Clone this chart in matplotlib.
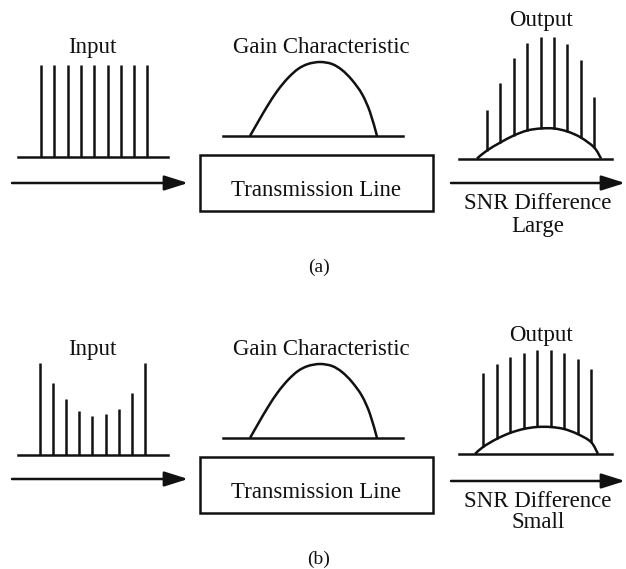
import matplotlib
matplotlib.use("Agg")
import matplotlib.pyplot as plt
from matplotlib.patches import FancyArrowPatch, Rectangle, PathPatch
from matplotlib.path import Path

# ---------------- data (signal levels) ----------------
channels = [1, 2, 3, 4, 5, 6, 7, 8, 9]
input_a = [92, 92, 92, 92, 92, 92, 92, 92, 92]
input_b = [92, 72, 56, 44, 39, 41, 46, 62, 92]
output_a = [49, 76, 101, 116, 122, 122, 115, 99, 62]
noise_a = [8, 16, 23, 28, 30, 30, 27, 21, 11]
output_b = [81, 90, 97, 101, 104, 104, 101, 95, 85]
noise_b = [7, 15, 21, 25, 27, 27, 25, 20, 12]
gain_freq = [0, 8, 18, 28, 38, 48, 58, 70, 82, 92, 102, 112, 120, 127]
gain_level = [0, 14, 31, 46, 58, 67, 72, 74, 72, 66, 56, 42, 24, 0]

FONT = ["Liberation Serif", "DejaVu Serif"]
LW = 1.8
K = "#111111"

fig = plt.figure(figsize=(6.26, 5.69), dpi=100)
ax = fig.add_axes([0, 0, 1, 1])
ax.set_xlim(0, 626)
ax.set_ylim(569, 0)
ax.axis("off")


def txt(x, y, s, size=16.5):
    ax.text(x, y, s, ha="center", va="baseline", fontsize=size,
            family=FONT, color=K)


def smooth(xs, ys):
    # cubic Bezier path through the read points (Catmull-Rom tangents)
    pts = list(zip(xs, ys))
    verts = [pts[0]]
    codes = [Path.MOVETO]
    n = len(pts)
    for i in range(n - 1):
        p0 = pts[max(i - 1, 0)]
        p1 = pts[i]
        p2 = pts[i + 1]
        p3 = pts[min(i + 2, n - 1)]
        c1 = (p1[0] + (p2[0] - p0[0]) / 6, p1[1] + (p2[1] - p0[1]) / 6)
        c2 = (p2[0] - (p3[0] - p1[0]) / 6, p2[1] - (p3[1] - p1[1]) / 6)
        verts += [c1, c2, p2]
        codes += [Path.CURVE4] * 3
    ax.add_patch(PathPatch(Path(verts, codes), fill=False, lw=LW,
                           edgecolor=K, capstyle="butt"))


def arrow(x0, x1, y):
    ax.add_patch(FancyArrowPatch((x0, y), (x1, y),
                                 arrowstyle="-|>,head_length=1.2,head_width=0.38",
                                 mutation_scale=12, lw=LW, color=K,
                                 shrinkA=0, shrinkB=0))


def spectrum(x0, step, base, levels, floor=None):
    for i, (c, lv) in enumerate(zip(channels, levels)):
        x = x0 + (c - 1) * step
        b = 0 if floor is None else floor[i]
        ax.plot([x, x], [base - b, base - lv], color=K, lw=LW,
                solid_capstyle="butt")


def panel(dy, inp, out, noise, in_x0, in_step, out_x0, out_step,
          in_base, out_base, out_l, out_r, label, snr, lab_y,
          out_y, arr_l, arr_r, snr_y, snr2_y):
    # input
    txt(92, 53 + dy, "Input")
    ax.plot([18, 168], [in_base, in_base], color=K, lw=LW)
    spectrum(in_x0, in_step, in_base, inp)
    # gain
    txt(321, 53 + dy, "Gain Characteristic")
    gb = 136 + dy
    ax.plot([223, 403], [gb, gb], color=K, lw=LW)
    smooth([250 + f for f in gain_freq], [gb - g for g in gain_level])
    # transmission line box
    ax.add_patch(Rectangle((200, 155 + dy), 233, 56, fill=False,
                           lw=LW, edgecolor=K))
    txt(316, 196 + dy, "Transmission Line")
    # output
    txt(541, out_y, "Output")
    ax.plot([459, 612], [out_base, out_base], color=K, lw=LW)
    xs = [out_l] + [out_x0 + (c - 1) * out_step for c in channels] + [out_r]
    ys = [out_base] + [out_base - n for n in noise] + [out_base]
    smooth(xs, ys)
    spectrum(out_x0, out_step, out_base, out, floor=noise)
    # arrows
    arrow(12, 188, arr_l)
    arrow(451, 625, arr_r)
    txt(538, snr_y, "SNR Difference")
    txt(538, snr2_y, snr)
    txt(319, lab_y, label, size=14)


panel(0, input_a, output_a, noise_a, 41, 13.3, 487, 13.4,
      157, 158.5, 477, 601, "(a)", "Large", 272,
      26, 183, 183, 209, 232)
panel(302, input_b, output_b, noise_b, 40, 13.1, 483, 13.5,
      455, 454, 475, 598, "(b)", "Small", 564,
      341, 479, 481, 507, 528)

fig.savefig("out.png", dpi=100)
